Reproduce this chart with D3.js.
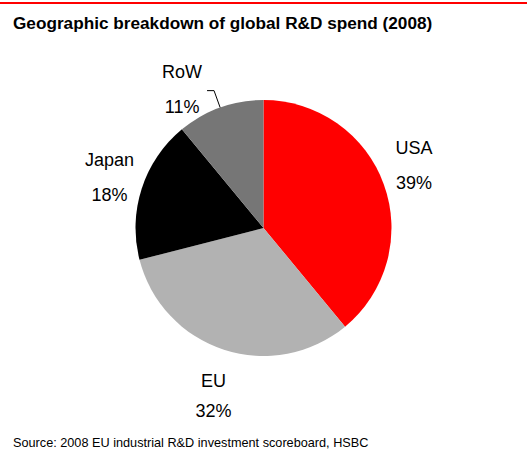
<!DOCTYPE html>
<html>
<head>
<meta charset="utf-8">
<script src="https://cdn.jsdelivr.net/npm/d3@7"></script>
<style>
  html, body { margin: 0; padding: 0; background: #fff; }
  svg { display: block; font-family: "Liberation Sans", Arial, Helvetica, sans-serif; }
</style>
</head>
<body>
<svg id="chart" width="527" height="452"></svg>
<script>
// Share of global R&D spend by region, 2008 (percent)
const regions = ["USA", "EU", "Japan", "RoW"];
const shares = [39, 32, 18, 11];
const sliceColors = ["#ff0000", "#b2b2b2", "#000000", "#767676"];

const titleText = "Geographic breakdown of global R&D spend (2008)";
const sourceText = "Source: 2008 EU industrial R&D investment scoreboard, HSBC";

const W = 527, H = 452;
const cx = 263.5, cy = 228, R = 128;

const svg = d3.select("#chart");

// top rule
svg.append("line")
  .attr("x1", 0).attr("x2", W)
  .attr("y1", 3).attr("y2", 3)
  .attr("stroke", "#ff0000").attr("stroke-width", 2);

svg.append("text")
  .attr("x", 13).attr("y", 29)
  .attr("font-size", 17.2).attr("font-weight", "bold")
  .attr("fill", "#000")
  .text(titleText);

svg.append("text")
  .attr("x", 13).attr("y", 447)
  .attr("font-size", 12.7)
  .attr("fill", "#000")
  .text(sourceText);

const data = regions.map((r, i) => ({ region: r, share: shares[i], color: sliceColors[i] }));

const pie = d3.pie().sort(null).value(d => d.share);
const arcs = pie(data);

const arc = d3.arc().innerRadius(0).outerRadius(R);
const g = svg.append("g").attr("transform", `translate(${cx},${cy})`);

g.selectAll("path.slice")
  .data(arcs)
  .join("path")
  .attr("class", "slice")
  .attr("d", arc)
  .attr("fill", d => d.data.color);

// label placement
const labelArc = d3.arc().innerRadius(162).outerRadius(162);
const edgeArc = d3.arc().innerRadius(R).outerRadius(R);
const elbowArc = d3.arc().innerRadius(R + 18).outerRadius(R + 18);
const nudge = { USA: [-2, -9], EU: [0, 13], Japan: [0, -1] };

arcs.forEach(d => {
  const name = d.data.region;
  let x, y, gap = 35;
  if (d.data.share < 15) {
    // small slice: leader line from the rim out to the label
    const p0 = edgeArc.centroid(d);
    const p1 = elbowArc.centroid(d);
    const p2 = [p1[0] - 7, p1[1]];
    g.append("polyline")
      .attr("points", [p2, p1, p0].map(p => p.join(",")).join(" "))
      .attr("fill", "none")
      .attr("stroke", "#000")
      .attr("stroke-width", 1);
    x = p2[0] - 25;
    y = p2[1] - 2;
  } else {
    const c = labelArc.centroid(d);
    const n = nudge[name] || [0, 0];
    x = c[0] + n[0];
    y = c[1] + n[1];
    if (name === "EU") gap = 30;
  }
  const t = g.append("text")
    .attr("text-anchor", "middle")
    .attr("font-size", 18)
    .attr("fill", "#000");
  t.append("tspan").attr("x", x).attr("y", y - gap / 2 + 7).text(name);
  t.append("tspan").attr("x", x).attr("y", y + gap / 2 + 7).text(d.data.share + "%");
});
</script>
</body>
</html>
